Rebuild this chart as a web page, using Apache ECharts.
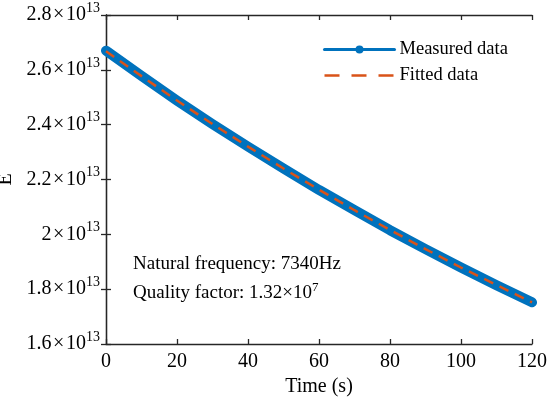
<!DOCTYPE html>
<html><head><meta charset="utf-8">
<script src="https://cdn.jsdelivr.net/npm/echarts@6/dist/echarts.min.js"></script>
<style>html,body{margin:0;padding:0;background:#fff}#c{width:550px;height:399px}</style>
</head><body><div id="c"></div>
<script>
const timeS = [0,10,20,30,40,50,60,70,80,90,100,110,120];
const measuredE = [2.670,2.578,2.488,2.402,2.320,2.240,2.162,2.088,2.015,1.946,1.879,1.814,1.752]; // ×10^13
const fittedE   = [2.668,2.577,2.488,2.402,2.320,2.240,2.163,2.088,2.016,1.946,1.879,1.815,1.752]; // ×10^13
const xTicks = [0,20,40,60,80,100,120];
const yTicks = [1.6,1.8,2.0,2.2,2.4,2.6,2.8]; // ×10^13
const annotations = ['Natural frequency: 7340Hz', 'Quality factor: 1.32×10{sup|7}'];

const F = 'Liberation Serif';
const ax = '#262626';
const chart = echarts.init(document.getElementById('c'));
const measured = timeS.map((t,i)=>[t, measuredE[i]*1e13]);
const fitted = timeS.map((t,i)=>[t, fittedE[i]*1e13]);
const yFmt = v => { const n = Math.round(v/1e12)/10; return (Number.isInteger(n)? String(n): n.toFixed(1)) + '\u200A×\u200A10{sup|13}'; };
const axisCommon = {
  axisLine:{show:true, lineStyle:{color:ax, width:1.3}},
  axisTick:{show:true, inside:true, length:5, lineStyle:{color:ax, width:1.3}},
  splitLine:{show:false}
};
chart.setOption({
  animation:false,
  backgroundColor:'#fff',
  grid:{left:106, right:18, top:15, bottom:55, containLabel:false, outerBoundsMode:'none'},
  xAxis:[
    Object.assign({type:'value', min:0, max:120, interval:20, position:'bottom',
      name:'Time (s)', nameLocation:'middle', nameGap:33,
      nameTextStyle:{fontFamily:F, fontSize:20, color:'#000'},
      axisLabel:{fontFamily:F, fontSize:20, color:'#000', margin:8}}, axisCommon),
    Object.assign({type:'value', min:0, max:120, interval:20, position:'top',
      axisLabel:{show:false}}, axisCommon)
  ],
  yAxis:[
    Object.assign({type:'value', min:1.6e13, max:2.8e13, interval:0.2e13, position:'left',
      name:'E', nameLocation:'middle', nameGap:88, nameRotate:90,
      nameTextStyle:{fontFamily:F, fontSize:20, color:'#000'},
      axisLabel:{fontFamily:F, fontSize:20, color:'#000', margin:6, formatter:yFmt,
        rich:{sup:{fontFamily:F, fontSize:14, verticalAlign:'bottom', padding:[0,0,14,0], color:'#000'}}}}, axisCommon),
    Object.assign({type:'value', min:1.6e13, max:2.8e13, interval:0.2e13, position:'right',
      axisLabel:{show:false}}, axisCommon)
  ],
  legend:{
    left:318, top:35, orient:'vertical', itemWidth:70, itemHeight:10, itemGap:7,
    textStyle:{fontFamily:F, fontSize:18.5, color:'#000'},
    data:[
      {name:'Measured data', itemStyle:{color:'#0072BD'}, lineStyle:{width:3, color:'#0072BD'}},
      {name:'Fitted data', itemStyle:{color:'rgba(0,0,0,0)', borderWidth:0, opacity:0}, lineStyle:{width:2.5, type:[15,12], color:'#D95319'}}
    ]
  },
  graphic:[
    {type:'text', left:133, top:255, style:{text:annotations[0], fontFamily:F, fontSize:19, fill:'#000'}},
    {type:'text', left:133, top:281, style:{text:annotations[1], fontFamily:F, fontSize:19, fill:'#000',
      rich:{sup:{fontFamily:F, fontSize:13, verticalAlign:'bottom', padding:[0,0,11,0], fill:'#000'}}}}
  ],
  series:[
    {name:'Measured data', type:'line', data:measured, symbol:'circle', symbolSize:8, showSymbol:false,
      lineStyle:{width:10, color:'#0072BD', cap:'round', join:'round'}, itemStyle:{color:'#0072BD'}, z:2},
    {name:'Fitted data', type:'line', data:fitted, symbol:'none',
      lineStyle:{width:2.5, color:'#D95319', type:[10,7]}, itemStyle:{color:'#D95319'}, z:3}
  ]
});
</script></body></html>
